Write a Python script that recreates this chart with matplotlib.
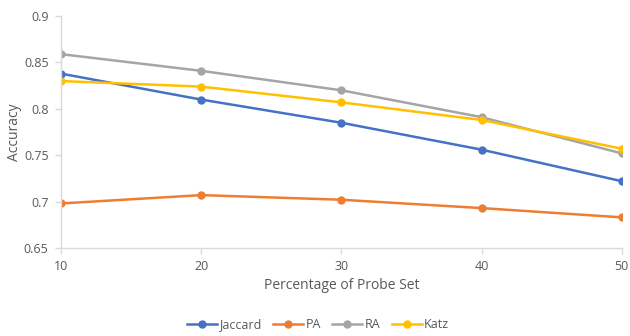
import matplotlib
matplotlib.use("Agg")
import matplotlib.pyplot as plt

plt.rcParams["font.family"] = ["Open Sans", "DejaVu Sans"]

# accuracy per probe-set percentage
probe_pct = [10, 20, 30, 40, 50]
jaccard = [0.838, 0.810, 0.785, 0.756, 0.722]
pa = [0.698, 0.707, 0.702, 0.693, 0.683]
ra = [0.859, 0.841, 0.820, 0.791, 0.752]
katz = [0.830, 0.824, 0.807, 0.788, 0.757]

series = [
    ("Jaccard", jaccard, "#4472C4"),
    ("PA", pa, "#ED7D31"),
    ("RA", ra, "#A5A5A5"),
    ("Katz", katz, "#FFC000"),
]

fig = plt.figure(figsize=(6.3, 3.36), dpi=100)
ax = fig.add_axes([0.097, 0.262, 0.890, 0.690])

for name, vals, color in series:
    ax.plot(probe_pct, vals, color=color, linewidth=1.8, marker="o",
            markersize=5, label=name)

ax.set_xlim(10, 50)
ax.set_ylim(0.65, 0.9)
ax.set_xticks(probe_pct)
ax.set_yticks([0.65, 0.7, 0.75, 0.8, 0.85, 0.9])
ax.set_yticklabels(["0.65", "0.7", "0.75", "0.8", "0.85", "0.9"])

for side in ["top", "right"]:
    ax.spines[side].set_visible(False)
for side in ["left", "bottom"]:
    ax.spines[side].set_color("#d9d9d9")
    ax.spines[side].set_linewidth(1.0)
ax.tick_params(axis="both", colors="#d9d9d9", labelcolor="#595959",
               labelsize=9, length=4, width=1.0)
ax.tick_params(axis="x", pad=5)
ax.tick_params(axis="y", pad=5)

ax.set_xlabel("Percentage of Probe Set", fontsize=10, color="#595959", labelpad=3)
ax.set_ylabel("Accuracy", fontsize=10, color="#595959")
ax.yaxis.set_label_coords(-0.07, 0.5)

leg = fig.legend(loc="center", bbox_to_anchor=(0.505, 0.033), ncol=4,
                 frameon=False, fontsize=9, handlelength=2.4,
                 columnspacing=0.9, handletextpad=0.2)
for t in leg.get_texts():
    t.set_color("#595959")

fig.savefig("out.png", dpi=100)
